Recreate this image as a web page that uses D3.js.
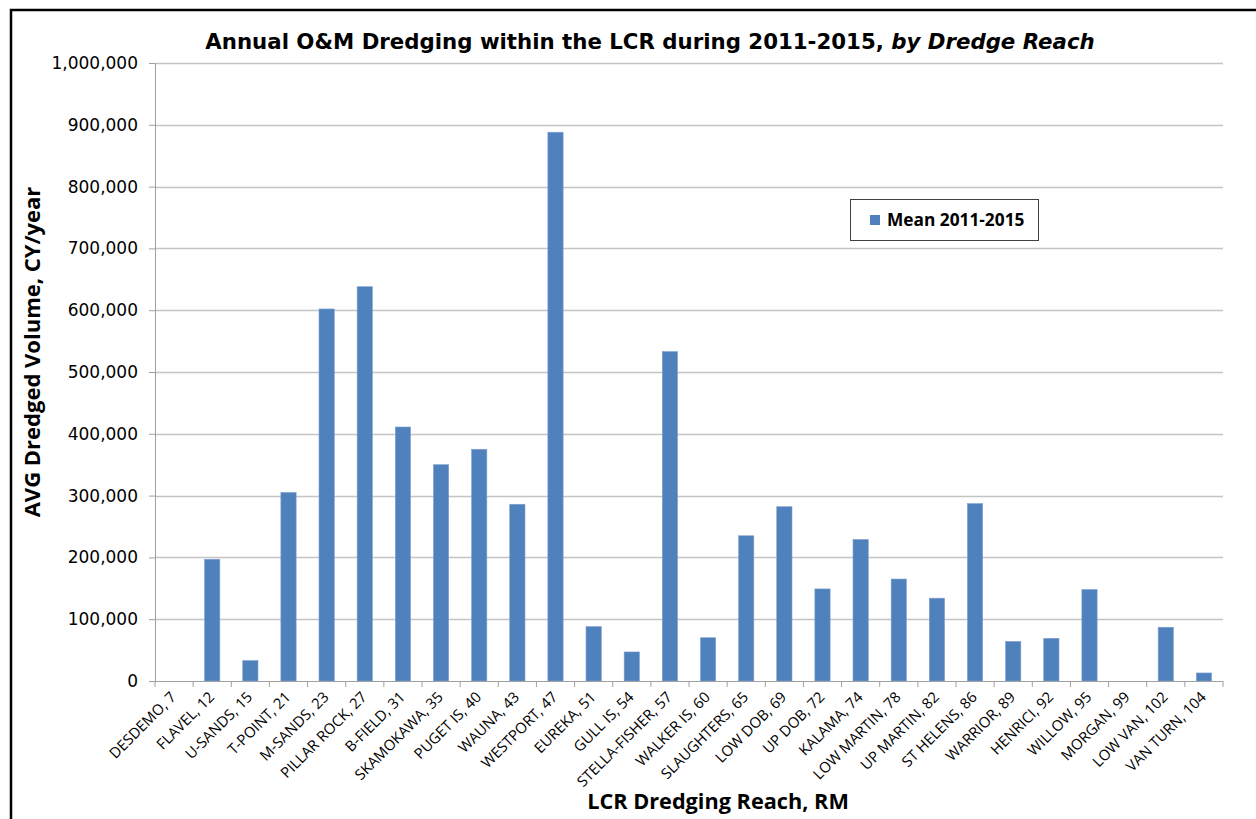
<!DOCTYPE html>
<html><head><meta charset="utf-8">
<script src="https://cdn.jsdelivr.net/npm/d3@7"></script>
<style>body{margin:0;background:#fff;}svg{display:block;}</style>
</head><body>
<svg id="chart" width="1256" height="819"></svg>
<script>
const categories = ["DESDEMO, 7","FLAVEL, 12","U-SANDS, 15","T-POINT, 21","M-SANDS, 23","PILLAR ROCK, 27","B-FIELD, 31","SKAMOKAWA, 35","PUGET IS, 40","WAUNA, 43","WESTPORT, 47","EUREKA, 51","GULL IS, 54","STELLA-FISHER, 57","WALKER IS, 60","SLAUGHTERS, 65","LOW DOB, 69","UP DOB, 72","KALAMA, 74","LOW MARTIN, 78","UP MARTIN, 82","ST HELENS, 86","WARRIOR, 89","HENRICI, 92","WILLOW, 95","MORGAN, 99","LOW VAN, 102","VAN TURN, 104"];
const meanValues = [0,197000,33000,305000,602000,638000,411000,350000,375000,286000,888000,88000,47000,533000,70000,235000,282000,149000,229000,165000,134000,287000,64000,69000,148000,0,87000,13000];
const yTicks = [0,100000,200000,300000,400000,500000,600000,700000,800000,900000,1000000];
const seriesName = "Mean 2011-2015";

const svg = d3.select("#chart");
const pLeft = 155, pRight = 1223, pTop = 63, pBottom = 681;
const color = "#4f81bd";

// outer frame
svg.append("rect").attr("x",11).attr("y",10).attr("width",1260).attr("height",830)
  .attr("fill","none").attr("stroke","#000").attr("stroke-width",2.5);

const x = d3.scaleBand().domain(categories).range([pLeft,pRight]).paddingInner(0.6).paddingOuter(0.3);
const y = d3.scaleLinear().domain([0,1000000]).range([pBottom,pTop]);

// gridlines
svg.append("g").selectAll("line").data(yTicks.slice(1)).join("line")
  .attr("x1",pLeft).attr("x2",pRight).attr("y1",d=>Math.round(y(d))+0.5).attr("y2",d=>Math.round(y(d))+0.5)
  .attr("stroke","#c4c4c4").attr("stroke-width",1.3);

// y axis
const yAxis = d3.axisLeft(y).tickValues(yTicks).tickSize(6).tickPadding(11).tickFormat(d3.format(","));
const gy = svg.append("g").attr("transform",`translate(${pLeft},0)`).call(yAxis);
gy.select(".domain").attr("stroke","#a0a0a0");
gy.selectAll(".tick line").attr("stroke","#a0a0a0");
gy.selectAll("text").attr("font-family","DejaVu Sans, sans-serif").attr("font-size",17).attr("fill","#000");

// bars
svg.append("g").selectAll("rect").data(meanValues).join("rect")
  .attr("x",(d,i)=>x(categories[i])).attr("width",x.bandwidth())
  .attr("y",d=>y(d)).attr("height",d=>y(0)-y(d))
  .attr("fill",color).attr("stroke","#7ea0cf").attr("stroke-width",0.6);

// x axis
const boundaries = d3.range(categories.length+1).map(i=>pLeft + i*(pRight-pLeft)/categories.length);
const gx = svg.append("g");
gx.append("line").attr("x1",pLeft).attr("x2",pRight).attr("y1",pBottom+0.5).attr("y2",pBottom+0.5).attr("stroke","#a0a0a0");
gx.selectAll("line.tk").data(boundaries).join("line").attr("class","tk")
  .attr("x1",d=>d).attr("x2",d=>d).attr("y1",pBottom).attr("y2",pBottom+6).attr("stroke","#a0a0a0");
gx.selectAll("text").data(categories).join("text")
  .attr("transform",d=>`translate(${x(d)+x.bandwidth()/2+3},${pBottom+17}) rotate(-45)`)
  .attr("text-anchor","end").attr("font-family","Open Sans, sans-serif").attr("font-size",14.8)
  .attr("fill","#000").text(d=>d);

// title
const title = svg.append("text").attr("x",650).attr("y",49).attr("text-anchor","middle")
  .attr("font-family","DejaVu Sans, sans-serif").attr("font-weight","bold").attr("font-size",21.3).attr("fill","#000");
title.append("tspan").text("Annual O&M Dredging within the LCR during 2011-2015, ");
title.append("tspan").attr("font-style","italic").text("by Dredge Reach");

// axis titles
svg.append("text").attr("transform","translate(40,352) rotate(-90)").attr("text-anchor","middle")
  .attr("font-family","Open Sans, sans-serif").attr("font-weight","bold").attr("font-size",22).attr("fill","#000")
  .text("AVG Dredged Volume, CY/year");
svg.append("text").attr("x",718).attr("y",809).attr("text-anchor","middle")
  .attr("font-family","Open Sans, sans-serif").attr("font-weight","bold").attr("font-size",21.7).attr("fill","#000")
  .text("LCR Dredging Reach, RM");

// legend
const lg = svg.append("g");
lg.append("rect").attr("x",850.5).attr("y",199.5).attr("width",188).attr("height",41).attr("fill","#fff").attr("stroke","#404040").attr("stroke-width",1);
lg.append("rect").attr("x",870).attr("y",215).attr("width",10).attr("height",10).attr("fill",color);
lg.append("text").attr("x",887).attr("y",226).attr("font-family","Open Sans, sans-serif").attr("font-weight","bold")
  .attr("font-size",17.3).attr("fill","#000").text(seriesName);
</script>
</body></html>
